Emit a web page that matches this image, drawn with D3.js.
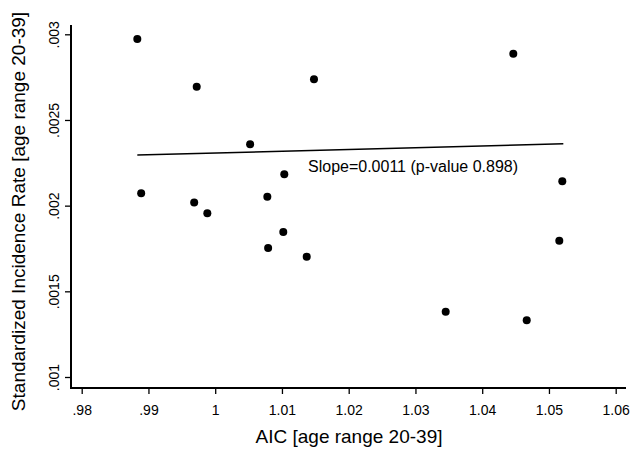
<!DOCTYPE html>
<html>
<head>
<meta charset="utf-8">
<script src="https://cdn.jsdelivr.net/npm/d3@7"></script>
<style>
  body { margin: 0; background: #fff; }
  svg { display: block; font-family: "Liberation Sans", Arial, sans-serif; }
</style>
</head>
<body>
<svg width="633" height="450"></svg>
<script>
// AIC values (x) and incidence rates (y)
const aic = [0.98833, 0.99723, 0.98891, 0.99685, 0.99882, 1.00523, 1.01480, 1.01035,
             1.00781, 1.00793, 1.01020, 1.01371, 1.03453, 1.04667, 1.04466, 1.05200, 1.05155];
const sir = [0.002972, 0.002694, 0.002072, 0.002019, 0.001955, 0.002358, 0.002737, 0.002183,
             0.002052, 0.001753, 0.001846, 0.001702, 0.001381, 0.001331, 0.002886, 0.002142, 0.001795];

// fitted line endpoints
const fitX = [0.98833, 1.05215];
const fitY = [0.002295, 0.002361];

const xTicks = [0.98, 0.99, 1, 1.01, 1.02, 1.03, 1.04, 1.05, 1.06];
const xTickLabels = [".98", ".99", "1", "1.01", "1.02", "1.03", "1.04", "1.05", "1.06"];
const yTicks = [0.001, 0.0015, 0.002, 0.0025, 0.003];
const yTickLabels = [".001", ".0015", ".002", ".0025", ".003"];

const svg = d3.select("svg");

// Scales
const xScale = d3.scaleLinear()
    .domain([0.98, 1.06])
    .range([81.7, 615.7]);
const yScale = d3.scaleLinear()
    .domain([0.001, 0.003])
    .range([377, 34.3]);

// Axes
const xAxis = d3.axisBottom(xScale)
    .tickValues(xTicks)
    .tickFormat((d, i) => xTickLabels[i])
    .tickSizeOuter(0)
    .tickSize(6);
const xg = svg.append("g")
    .attr("transform", "translate(0,388)")
    .call(xAxis);
xg.select(".domain").attr("d", "M71,0H626");

const yAxis = d3.axisLeft(yScale)
    .tickValues(yTicks)
    .tickFormat((d, i) => yTickLabels[i])
    .tickSizeOuter(0)
    .tickSize(6);
const yg = svg.append("g")
    .attr("transform", "translate(71,0)")
    .call(yAxis);
yg.select(".domain").attr("d", "M0,25V389");

svg.selectAll(".domain").attr("stroke", "#000").attr("stroke-width", 2);
svg.selectAll(".tick line").attr("stroke", "#000").attr("stroke-width", 1.3);

xg.selectAll(".tick text")
    .attr("y", 27)
    .attr("dy", 0)
    .attr("font-size", 14)
    .attr("font-family", "Liberation Sans, Arial, sans-serif")
    .attr("fill", "#000");

yg.selectAll(".tick text")
    .attr("transform", "rotate(-90)")
    .attr("x", 0)
    .attr("y", -12.5)
    .attr("dy", 0)
    .attr("text-anchor", "middle")
    .attr("font-size", 14)
    .attr("font-family", "Liberation Sans, Arial, sans-serif")
    .attr("fill", "#000");

// Axis titles
svg.append("text")
    .attr("x", 349)
    .attr("y", 443)
    .attr("text-anchor", "middle")
    .attr("font-size", 19)
    .text("AIC [age range 20-39]");

svg.append("text")
    .attr("transform", "translate(25,211.5) rotate(-90)")
    .attr("text-anchor", "middle")
    .attr("font-size", 19)
    .text("Standardized Incidence Rate [age range 20-39]");

// Fit line
svg.append("line")
    .attr("x1", xScale(fitX[0]))
    .attr("y1", yScale(fitY[0]))
    .attr("x2", xScale(fitX[1]))
    .attr("y2", yScale(fitY[1]))
    .attr("stroke", "#000")
    .attr("stroke-width", 1.5);

svg.append("text")
    .attr("x", 308)
    .attr("y", 172)
    .attr("font-size", 16)
    .text("Slope=0.0011 (p-value 0.898)");

// Points
svg.selectAll("circle")
    .data(aic)
    .enter()
    .append("circle")
    .attr("cx", d => xScale(d))
    .attr("cy", (d, i) => yScale(sir[i]))
    .attr("r", 4)
    .attr("fill", "#000");
</script>
</body>
</html>
